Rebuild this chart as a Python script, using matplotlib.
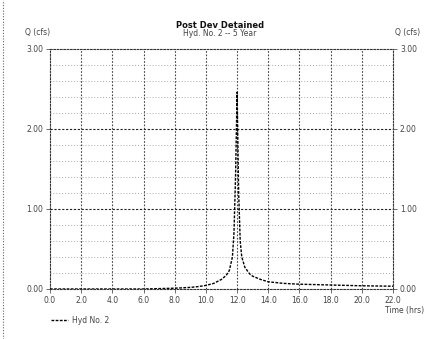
import matplotlib
matplotlib.use("Agg")
import matplotlib.pyplot as plt
import numpy as np

# hydrograph
time_hrs = [0.0, 2.0, 4.0, 6.0, 7.0, 8.0, 8.5, 9.0, 9.5, 10.0, 10.5, 11.0, 11.3,
            11.5, 11.7, 11.8, 11.9, 12.0, 12.1, 12.2, 12.3, 12.5, 12.8, 13.0,
            13.5, 14.0, 15.0, 16.0, 18.0, 20.0, 22.0]
flow_cfs = [0.0, 0.0, 0.0, 0.0, 0.005, 0.01, 0.015, 0.02, 0.03, 0.045, 0.07, 0.12,
            0.17, 0.23, 0.40, 0.70, 1.40, 2.46, 1.20, 0.60, 0.40, 0.27, 0.19, 0.16,
            0.12, 0.09, 0.07, 0.06, 0.05, 0.04, 0.035]

x_ticks = [0, 2, 4, 6, 8, 10, 12, 14, 16, 18, 20, 22]
y_ticks = [0, 1, 2, 3]
y_minor = [0.2, 0.4, 0.6, 0.8, 1.2, 1.4, 1.6, 1.8, 2.2, 2.4, 2.6, 2.8]

txt = "#444444"
fs = 5.5

fig = plt.figure(figsize=(4.26, 3.39), dpi=100)
ax = fig.add_axes([50 / 426, 50 / 339, 343 / 426, 240 / 339])

ax.set_xlim(0, 22)
ax.set_ylim(0, 3)

# grid
for y in y_minor:
    ax.axhline(y, color="#aaaaaa", lw=0.7, ls=(0, (1, 2)), zorder=1)
for y in [1, 2]:
    ax.axhline(y, color="#222222", lw=0.8, ls=(0, (2, 1.5)), zorder=1)
for x in x_ticks[1:-1]:
    ax.axvline(x, color="#444444", lw=0.8, ls=(0, (1.5, 1.5)), zorder=1)

ax.plot(time_hrs, flow_cfs, color="black", lw=1.0, ls=(0, (2, 1)), zorder=3,
        label="Hyd No. 2")

for sp in ax.spines.values():
    sp.set_linestyle((0, (1.5, 1.5)))
    sp.set_linewidth(0.8)
    sp.set_color("#333333")

ax.set_xticks(x_ticks)
ax.set_xticklabels([f"{v:.1f}" for v in x_ticks])
ax.set_yticks(y_ticks)
ax.set_yticklabels([f"{v:.2f}" for v in y_ticks])
ax.tick_params(axis="both", length=3, width=0.6, labelsize=fs, labelcolor=txt,
               color="#555555", pad=2)

ax2 = ax.twinx()
ax2.set_ylim(0, 3)
ax2.set_yticks(y_ticks)
ax2.set_yticklabels([f"{v:.2f}" for v in y_ticks])
ax2.tick_params(axis="y", length=3, width=0.6, labelsize=fs, labelcolor=txt,
                color="#555555", pad=2)
for sp in ax2.spines.values():
    sp.set_visible(False)

fig.text(220 / 426, 1 - 25 / 339, "Post Dev Detained", ha="center", va="center",
         fontsize=6, fontweight="bold", color="#111111")
fig.text(220 / 426, 1 - 34 / 339, "Hyd. No. 2 -- 5 Year", ha="center", va="center",
         fontsize=fs, color=txt)
fig.text(38 / 426, 1 - 33 / 339, "Q (cfs)", ha="center", va="center",
         fontsize=fs, color=txt)
fig.text(408 / 426, 1 - 33 / 339, "Q (cfs)", ha="center", va="center",
         fontsize=fs, color=txt)
fig.text(405 / 426, 1 - 311 / 339, "Time (hrs)", ha="center", va="center",
         fontsize=fs, color=txt)

leg = ax.legend(loc="upper left", bbox_to_anchor=(-0.005, -0.1), frameon=False,
                fontsize=fs, handlelength=2.2, handletextpad=0.5,
                borderaxespad=0)
for t in leg.get_texts():
    t.set_color(txt)

# page border on the left
fig.add_artist(plt.Line2D([3 / 426, 3 / 426], [0, 1], transform=fig.transFigure,
                          color="#666666", lw=0.8, ls=(0, (1, 1.5))))

fig.savefig("out.png", dpi=100)
